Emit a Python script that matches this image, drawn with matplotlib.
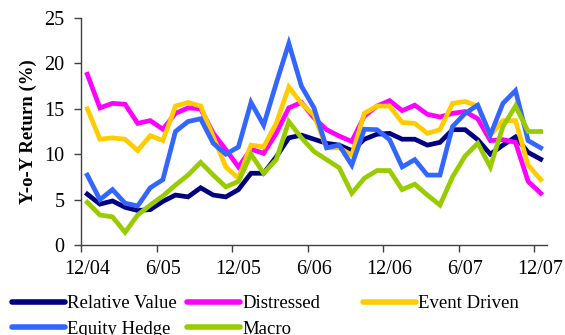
import matplotlib
matplotlib.use("Agg")
import matplotlib.pyplot as plt
import numpy as np

# monthly observations, 12/04 .. 12/07
months = ["12/04", "1/05", "2/05", "3/05", "4/05", "5/05", "6/05", "7/05", "8/05", "9/05",
          "10/05", "11/05", "12/05", "1/06", "2/06", "3/06", "4/06", "5/06", "6/06", "7/06",
          "8/06", "9/06", "10/06", "11/06", "12/06", "1/07", "2/07", "3/07", "4/07", "5/07",
          "6/07", "7/07", "8/07", "9/07", "10/07", "11/07", "12/07"]

relative_value = [5.6, 4.5, 4.85, 4.15, 3.8, 3.9, 4.8, 5.5, 5.3, 6.3,
                  5.5, 5.3, 6.1, 7.9, 7.9, 9.7, 11.8, 12.1, 11.65, 11.2,
                  11.0, 10.4, 11.65, 12.2, 12.3, 11.65, 11.65, 11.0, 11.3, 12.7,
                  12.7, 11.6, 10.0, 11.0, 11.9, 10.2, 9.45]
distressed = [18.8, 15.1, 15.6, 15.5, 13.4, 13.7, 12.75, 14.5, 15.1, 15.0,
              12.3, 10.5, 8.6, 10.55, 10.1, 12.3, 15.1, 15.7, 14.0, 12.7,
              12.0, 11.4, 14.2, 15.3, 15.9, 14.8, 15.4, 14.4, 14.1, 14.5,
              14.7, 13.9, 11.5, 11.6, 11.3, 7.0, 5.7]
event_driven = [15.0, 11.65, 11.8, 11.65, 10.4, 12.05, 11.5, 15.3, 15.7, 15.3,
                11.9, 8.6, 7.35, 11.0, 10.8, 13.4, 17.4, 15.6, 14.3, 10.7,
                10.7, 9.9, 14.5, 15.3, 15.3, 13.5, 13.4, 12.3, 12.7, 15.6,
                15.8, 15.3, 12.1, 13.7, 13.7, 8.8, 7.2]
equity_hedge = [7.7, 5.0, 6.1, 4.6, 4.3, 6.3, 7.2, 12.5, 13.6, 13.9,
                11.2, 10.0, 10.8, 15.7, 13.2, 17.8, 22.2, 17.5, 15.1, 10.7,
                11.0, 8.8, 12.75, 12.7, 11.6, 8.6, 9.4, 7.7, 7.7, 13.05,
                14.5, 15.4, 12.1, 15.6, 17.0, 11.5, 10.7]
macro = [4.7, 3.3, 3.1, 1.4, 3.3, 4.4, 5.4, 6.6, 7.7, 9.1,
         7.7, 6.4, 7.0, 10.0, 7.9, 9.4, 13.6, 11.8, 10.3, 9.4,
         8.5, 5.7, 7.35, 8.2, 8.2, 6.1, 6.7, 5.5, 4.4, 7.5,
         9.8, 11.2, 8.6, 13.05, 15.3, 12.5, 12.5]

series = [
    ("Relative Value", relative_value, "#000080"),
    ("Distressed", distressed, "#ff00ff"),
    ("Event Driven", event_driven, "#ffcc00"),
    ("Equity Hedge", equity_hedge, "#3366ff"),
    ("Macro", macro, "#99cc00"),
]

plt.rcParams["font.family"] = ["Liberation Serif", "DejaVu Serif"]

fig = plt.figure(figsize=(5.65, 3.35), dpi=100)
ax = fig.add_axes([81 / 565, 1 - 245 / 335, 466 / 565, 227 / 335])

x = np.arange(len(months))
lines = {}
for name, vals, clr in series:
    ln, = ax.plot(x, vals, color=clr, lw=3.4, solid_joinstyle="miter", label=name)
    lines[name] = ln

ax.set_xlim(-0.5, len(months) - 0.5)
ax.set_ylim(0, 25)
ax.set_yticks(np.arange(0, 26, 5))

# labels every 6 months at the category, tick marks between categories
ax.set_xticks(x[::6])
ax.set_xticklabels(months[::6])
ax.set_xticks(np.arange(-0.5, len(months), 6), minor=True)
ax.tick_params(axis="x", which="major", length=0, pad=11, labelsize=14.5)
ax.tick_params(axis="x", which="minor", length=5, width=1, direction="out", color="#404040")
ax.tick_params(axis="y", length=5, width=1, direction="out", pad=7, labelsize=14.5, color="#404040")

for s in ["top", "right"]:
    ax.spines[s].set_visible(False)
for s in ["left", "bottom"]:
    ax.spines[s].set_color("#404040")
    ax.spines[s].set_linewidth(1)

fig.text(28 / 565, 1 - 132 / 335, "Y-o-Y Return (%)", rotation=90, fontsize=13.5,
         fontweight="bold", ha="center", va="center")

# legend laid out in fixed columns, like the spreadsheet original
cols = [(["Relative Value", "Equity Hedge"], 12),
        (["Distressed", "Macro"], 187),
        (["Event Driven"], 363)]
for names, px in cols:
    leg = fig.legend([lines[n] for n in names], names, loc="upper left",
                     bbox_to_anchor=(px / 565, 1 - 295 / 335), frameon=False,
                     fontsize=13.5, handlelength=2.8, handletextpad=0.15,
                     labelspacing=0.45, borderpad=0, borderaxespad=0)
    for h in leg.get_lines():
        h.set_linewidth(4)
        h.set_solid_capstyle("round")

fig.savefig("out.png", dpi=100)
